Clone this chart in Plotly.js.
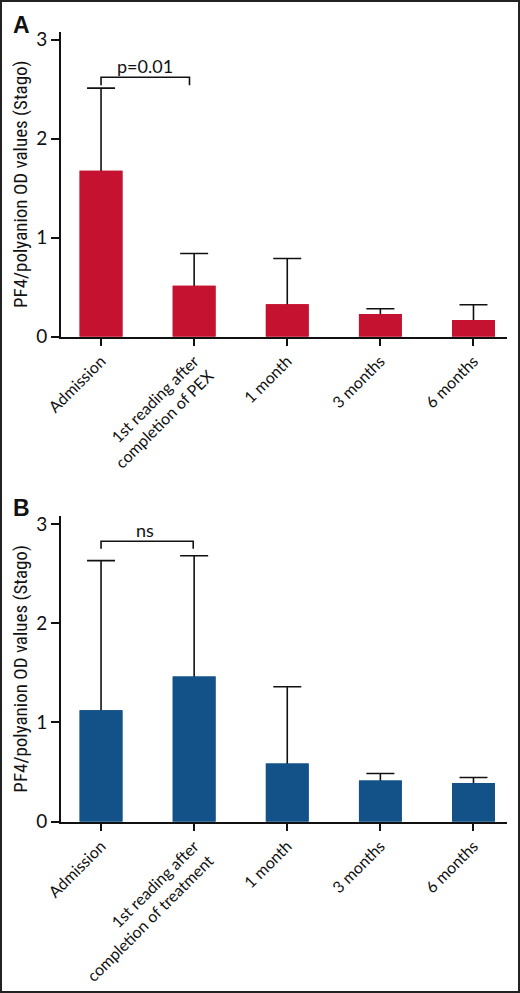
<!DOCTYPE html>
<html>
<head>
<meta charset="utf-8">
<script src="https://cdn.plot.ly/plotly-3.0.1.min.js"></script>
<style>
    html, body { margin: 0; padding: 0; background: #fff; }
    #wrap { position: relative; width: 520px; height: 993px; }
    #chart { width: 520px; height: 993px; }
    #frame { position: absolute; left: 0; top: 0; width: 516px; height: 989px; border: 2px solid #222; pointer-events: none; }
</style>
</head>
<body>
<div id="wrap">
    <div id="chart"></div>
    <div id="frame"></div>
</div>
<script>
// values (mean bar + upper error)
var categoriesA = ['Admission', '1st reading after<br>completion of PEX', '1 month', '3 months', '6 months'];
var categoriesB = ['Admission', '1st reading after<br>completion of treatment', '1 month', '3 months', '6 months'];

var meanA = [1.675, 0.515, 0.327, 0.229, 0.168];
var errA = [0.835, 0.325, 0.463, 0.054, 0.155];

var meanB = [1.122, 1.463, 0.586, 0.415, 0.391];
var errB = [1.508, 1.217, 0.774, 0.070, 0.054];

var yTicks = [0, 1, 2, 3];

var redA = '#C41230';
var blueB = '#135289';
var tickFont = { family: 'Lato, "Open Sans", sans-serif', size: 16, color: '#111' };
var titleFont = { family: '"Liberation Sans Narrow", "Roboto Condensed", Roboto, sans-serif', size: 19, color: '#111' };

// lower caps of the error bars are pushed into the bar and covered by the overlay bar
function hidden(n)
{
    var out = [];
    for (var i = 0; i < n; i++) out.push(0.05);
    return out;
}

function errTrace(x, y, err, color, xa, ya)
{
    return {
        type: 'bar',
        x: x,
        y: y,
        xaxis: xa,
        yaxis: ya,
        width: 0.46,
        marker: { color: color, line: { width: 0 } },
        error_y:
        {
            type: 'data',
            symmetric: false,
            array: err,
            arrayminus: hidden(y.length),
            color: '#111',
            thickness: 1.6,
            width: 14
        },
        hoverinfo: 'x+y'
    };
}

function barTrace(x, y, color, xa, ya)
{
    return {
        type: 'bar',
        x: x,
        y: y,
        xaxis: xa,
        yaxis: ya,
        width: 0.46,
        marker: { color: color, line: { width: 0 } },
        hoverinfo: 'skip'
    };
}

var data =
[
    errTrace(categoriesA, meanA, errA, redA, 'x', 'y'),
    barTrace(categoriesA, meanA, redA, 'x', 'y'),
    errTrace(categoriesB, meanB, errB, blueB, 'x2', 'y2'),
    barTrace(categoriesB, meanB, blueB, 'x2', 'y2')
];

function xAxis(anchor)
{
    return {
        anchor: anchor,
        domain: [61 / 520, 507 / 520],
        type: 'category',
        range: [-0.43, 4.36],
        showgrid: false,
        zeroline: false,
        showline: true,
        linecolor: '#111',
        linewidth: 2,
        ticks: 'outside',
        ticklen: 7,
        tickwidth: 2,
        tickcolor: '#111',
        tickangle: -45,
        tickfont: tickFont
    };
}

function yAxis(anchor, domain)
{
    return {
        anchor: anchor,
        domain: domain,
        range: [0, 3.08],
        tickvals: yTicks,
        ticktext: yTicks.map(String),
        showgrid: false,
        zeroline: false,
        showline: true,
        linecolor: '#111',
        linewidth: 2,
        ticks: 'outside',
        ticklen: 8,
        tickwidth: 2,
        tickcolor: '#111',
        tickfont: { family: tickFont.family, size: 19, color: '#111' },
        title: { text: 'PF4/polyanion OD values (Stago)', font: titleFont, standoff: 4 }
    };
}

function bracket(xa, ya, x0, x1, yLow, yHigh)
{
    return {
        type: 'path',
        xref: xa,
        yref: ya,
        path: 'M ' + x0 + ',' + yLow + ' L ' + x0 + ',' + yHigh + ' L ' + x1 + ',' + yHigh + ' L ' + x1 + ',' + yLow,
        line: { color: '#111', width: 1.6 }
    };
}

var layout =
{
    width: 520,
    height: 993,
    showlegend: false,
    barmode: 'overlay',
    paper_bgcolor: '#fff',
    plot_bgcolor: '#fff',
    margin: { l: 0, r: 0, t: 0, b: 0 },
    xaxis: xAxis('y'),
    yaxis: yAxis('x', [(993 - 336.7) / 993, (993 - 31.7) / 993]),
    xaxis2: xAxis('y2'),
    yaxis2: yAxis('x2', [(993 - 821.7) / 993, (993 - 516) / 993]),
    shapes:
    [
        bracket('x', 'y', 0, 0.95, 2.54, 2.62),
        bracket('x2', 'y2', 0, 0.99, 2.75, 2.825)
    ],
    annotations:
    [
        {
            text: 'p=0.01', xref: 'x', yref: 'y', x: 0.47, y: 2.73,
            showarrow: false, font: { family: tickFont.family, size: 18, color: '#111' }
        },
        {
            text: 'ns', xref: 'x2', yref: 'y2', x: 0.47, y: 2.94,
            showarrow: false, font: { family: tickFont.family, size: 18, color: '#111' }
        },
        {
            text: '<b>A</b>', xref: 'paper', yref: 'paper', x: 21 / 520, y: (993 - 25) / 993,
            xanchor: 'center', yanchor: 'middle',
            showarrow: false, font: { family: 'Arial, "Liberation Sans", sans-serif', size: 23, color: '#111' }
        },
        {
            text: '<b>B</b>', xref: 'paper', yref: 'paper', x: 21 / 520, y: (993 - 508) / 993,
            xanchor: 'center', yanchor: 'middle',
            showarrow: false, font: { family: 'Arial, "Liberation Sans", sans-serif', size: 23, color: '#111' }
        }
    ]
};

var config = { displayModeBar: false, responsive: false };

Plotly.newPlot(document.getElementById('chart'), data, layout, config);
</script>
</body>
</html>
